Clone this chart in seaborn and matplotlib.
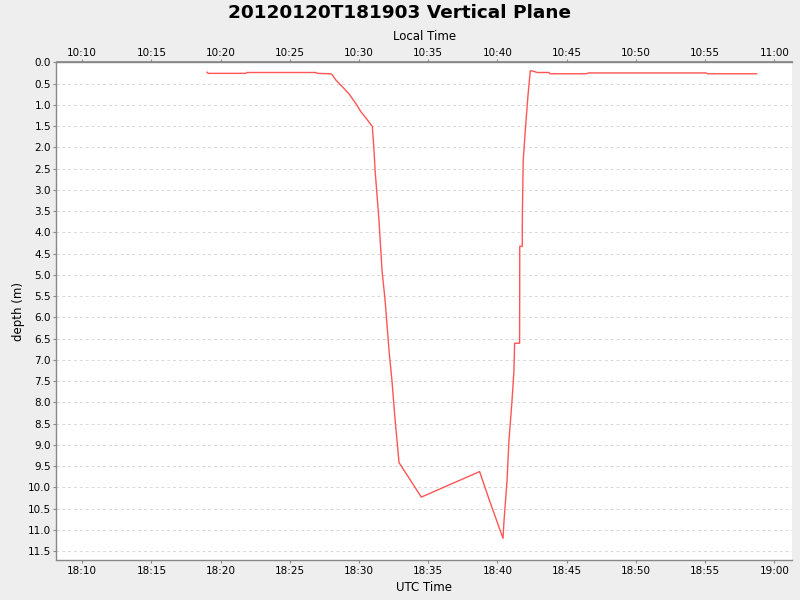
import numpy as np
import pandas as pd
import seaborn as sns
import matplotlib
matplotlib.use('Agg')
import matplotlib.pyplot as plt
import matplotlib.dates as mdates
from matplotlib.ticker import MultipleLocator, FormatStrFormatter

# minutes after 18:00 UTC
minutes = [19.00, 19.10, 21.82, 21.91, 24.95, 26.87, 26.99, 27.96, 28.07, 28.33,
           28.81, 29.29, 29.77, 30.13, 30.61, 30.96, 31.08, 31.16, 31.44, 31.66,
           31.88, 32.17, 32.38, 32.60, 32.89, 34.50, 38.71, 39.39, 40.40, 40.47,
           40.69, 40.83, 41.05, 41.19, 41.24, 41.60, 41.61, 41.79, 41.80, 41.86,
           42.03, 42.20, 42.37, 42.47, 42.88, 43.72, 43.79, 46.37, 46.61, 55.05,
           55.20, 58.74]
depth = [0.23, 0.26, 0.26, 0.24, 0.24, 0.24, 0.26, 0.27, 0.30, 0.42,
         0.58, 0.75, 0.97, 1.16, 1.36, 1.51, 2.07, 2.55, 3.72, 4.90,
         5.60, 6.80, 7.50, 8.40, 9.42, 10.23, 9.63, 10.28, 11.20, 10.80,
         9.85, 8.90, 7.97, 7.26, 6.61, 6.61, 4.33, 4.33, 3.56, 2.31,
         1.52, 0.80, 0.20, 0.20, 0.24, 0.24, 0.27, 0.27, 0.25, 0.25,
         0.27, 0.27]

start = pd.Timestamp('2012-01-20 18:00:00')
df = pd.DataFrame({
    'utc': [start + pd.Timedelta(minutes=m) for m in minutes],
    'depth': depth,
})

sns.set_theme(style='white')
plt.rcParams['font.family'] = ['DejaVu Sans']
plt.rcParams['text.color'] = 'black'
plt.rcParams['axes.labelcolor'] = 'black'

fig, ax = plt.subplots(figsize=(8, 6), dpi=100)
fig.patch.set_facecolor('#EEEEEE')
ax.set_facecolor('white')
fig.subplots_adjust(left=56.5 / 800, right=792 / 800, top=1 - 62.3 / 600, bottom=1 - 560 / 600)

sns.lineplot(data=df, x='utc', y='depth', sort=False, estimator=None,
             color='#FF5555', linewidth=1.0, ax=ax)

ax.set_xlim(start + pd.Timedelta(minutes=8.14), start + pd.Timedelta(minutes=61.28))
ax.set_ylim(11.71, 0.0)

ax.yaxis.set_major_locator(MultipleLocator(0.5))
ax.yaxis.set_major_formatter(FormatStrFormatter('%.1f'))
ax.xaxis.set_major_locator(mdates.MinuteLocator(byminute=range(0, 60, 5)))
ax.xaxis.set_major_formatter(mdates.DateFormatter('%H:%M'))

ax.grid(axis='y', color='#D8D8D8', linestyle=(0, (3, 3)), linewidth=0.7)
ax.grid(axis='x', visible=False)

for side in ['left', 'bottom', 'top']:
    ax.spines[side].set_color('#888888')
    ax.spines[side].set_linewidth(1.0)
ax.spines['right'].set_visible(False)

ax.tick_params(axis='both', labelsize=7.5, colors='#888888', labelcolor='black',
               length=2, width=0.8, pad=2, direction='out', left=True, bottom=True)

ax.set_xlabel('UTC Time', fontsize=8.5, labelpad=4)
ax.set_ylabel('depth (m)', fontsize=8.5, labelpad=2)

# local time axis on top (UTC - 8h)
offset = 8.0 / 24.0
top = ax.secondary_xaxis('top', functions=(lambda x: x - offset, lambda x: x + offset))
top.xaxis.set_major_locator(mdates.MinuteLocator(byminute=range(0, 60, 5)))
top.xaxis.set_major_formatter(mdates.DateFormatter('%H:%M'))
top.tick_params(labelsize=7.5, colors='#888888', labelcolor='black', length=2, width=0.8, pad=1)
top.spines['top'].set_color('#888888')
top.set_xlabel('Local Time', fontsize=8.5, labelpad=6)

fig.suptitle('20120120T181903 Vertical Plane', fontsize=13.3, fontweight='bold',
             color='black', y=0.993)

fig.savefig('out.png', dpi=100, facecolor=fig.get_facecolor())
